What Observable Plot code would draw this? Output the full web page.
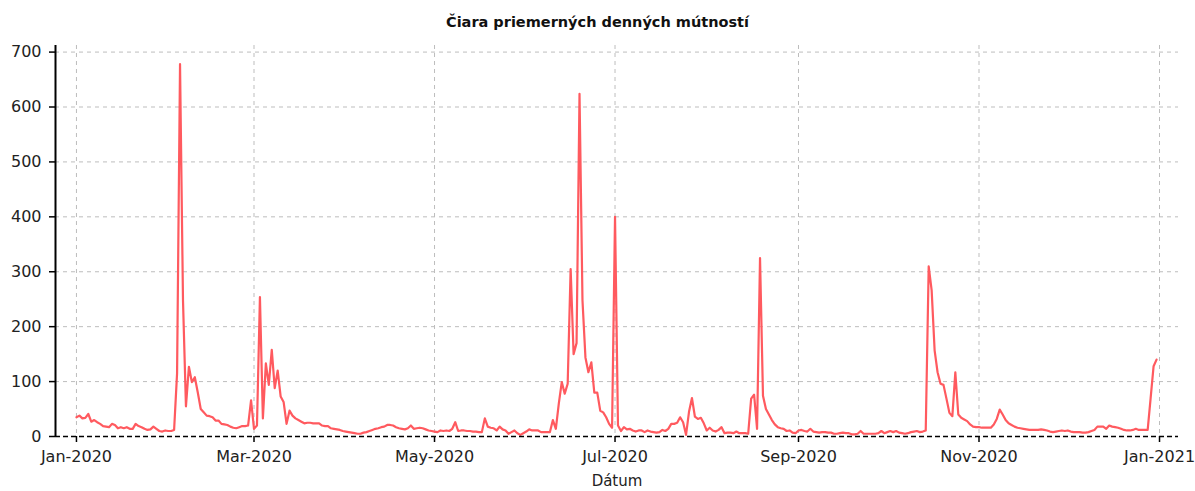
<!DOCTYPE html>
<html>
<head>
<meta charset="utf-8">
<script src="https://cdn.jsdelivr.net/npm/d3@7"></script>
<script src="https://cdn.jsdelivr.net/npm/@observablehq/plot@0.6"></script>
<style>
  html, body { margin: 0; padding: 0; background: #fff; }
  #wrap { width: 1195px; height: 491px; position: relative; font-family: "DejaVu Sans", sans-serif; }
  #title { height: 36px; line-height: 44px; text-align: center; font-weight: bold; font-size: 14.5px; color: #111; }
</style>
</head>
<body>
<div id="wrap">
  <div id="title">Čiara priemerných denných mútností</div>
  <div id="chart"></div>
</div>
<script>
// Daily mean turbidity, 2020 (one value per day, starting at startDate)
const startDate = "2020-01-01";
const jan = [35,38,33,34,41,27,30,26,23,19,18,17,23,21,15,17,15,17,14,14,23,19,17,14,12,13,18,14,10,9,11];
const feb = [10,10,12,115,678,248,55,127,99,108,80,50,44,38,37,35,29,29,23,22,21,18,16,15,17,19,19,20,66];
const mar = [14,20,254,33,133,94,158,88,120,73,63,23,47,38,33,30,27,24,25,25,24,24,24,20,19,19,15,14,13,12,10];
const apr = [9,8,7,6,5,5,7,8,10,12,14,15,17,18,21,21,20,17,15,14,13,15,20,14,15,16,15,13,11,10];
const may = [9,8,11,10,11,10,14,26,10,11,11,10,10,9,9,8,8,33,18,16,15,11,18,13,11,5,8,11,6,3,6];
const jun = [9,13,11,11,11,8,8,8,8,30,14,60,99,78,96,305,150,170,624,248,144,117,135,80,80,47,44,35,23,16];
const jul = [400,20,10,17,13,14,11,9,11,11,8,11,9,8,7,8,12,10,14,23,23,25,35,26,3,45,70,36,32,34,24];
const aug = [11,16,11,9,12,17,6,7,7,6,9,6,6,6,5,69,76,14,325,74,50,40,30,22,17,15,14,10,11,7,6];
const sep = [11,12,10,9,14,9,8,7,8,8,7,7,5,5,6,7,6,6,4,4,5,10,5,5,5,5,5,6,10,6];
const oct = [8,10,8,10,7,6,5,6,8,9,10,8,9,11,310,266,157,117,96,94,69,43,37,117,40,34,31,28,22,18,17];
const nov = [17,16,16,16,16,22,32,49,40,30,24,21,18,16,15,14,13,12,12,12,12,13,12,11,9,8,9,10,11,10];
const dec = [11,9,8,8,8,7,7,8,10,12,18,18,18,14,20,18,17,16,14,12,11,11,12,14,12,12,12,12,70,128,140];

const yTicks = [0,100,200,300,400,500,600,700];
const xTicks = ["2020-01-01","2020-03-01","2020-05-01","2020-07-01","2020-09-01","2020-11-01","2021-01-01"];
const monthNames = ["Jan","Feb","Mar","Apr","May","Jun","Jul","Aug","Sep","Oct","Nov","Dec"];
const xLabel = "Dátum";

const values = [].concat(jan, feb, mar, apr, may, jun, jul, aug, sep, oct, nov, dec);
const t0 = new Date(startDate + "T00:00:00Z");
const data = values.map((v, i) => ({date: new Date(t0.getTime() + i * 864e5), value: v}));
const xTickDates = xTicks.map(s => new Date(s + "T00:00:00Z"));

const xDomain = [new Date(Date.UTC(2019, 11, 24, 22)), new Date(Date.UTC(2021, 0, 7, 10))];
const yDomain = [0, 712];
const fmt = d => monthNames[d.getUTCMonth()] + "-" + d.getUTCFullYear();

const plot = Plot.plot({
  width: 1195,
  height: 455,
  marginLeft: 55,
  marginRight: 17,
  marginTop: 9,
  marginBottom: 55,
  style: {fontFamily: "DejaVu Sans, sans-serif", fontSize: "16px", color: "#222", background: "#fff"},
  x: {type: "utc", domain: xDomain},
  y: {domain: yDomain},
  marks: [
    Plot.gridX(xTickDates, {stroke: "#bdbdbd", strokeOpacity: 1, strokeDasharray: "4,4", strokeWidth: 1}),
    Plot.gridY(yTicks, {stroke: "#bdbdbd", strokeOpacity: 1, strokeDasharray: "4,4", strokeWidth: 1}),
    Plot.axisY(yTicks, {tickSize: 6, tickPadding: 8, stroke: "#000", strokeWidth: 1.5, label: null, fontSize: 16}),
    Plot.axisX(xTickDates, {tickSize: 6, tickPadding: 8, stroke: "#000", strokeWidth: 1.5, tickFormat: fmt, label: null, fontSize: 16}),
    Plot.text([xLabel], {frameAnchor: "bottom", dy: 49, fontSize: 15, fill: "#222"}),
    Plot.ruleX([xDomain[0]], {y1: yDomain[0], y2: yDomain[1], stroke: "#000", strokeWidth: 2}),
    Plot.lineY(data, {x: "date", y: "value", stroke: "#ff5a5f", strokeWidth: 2.2}),
    Plot.ruleY([0], {stroke: "#000", strokeWidth: 1.5, strokeDasharray: "5,3"})
  ]
});
document.getElementById("chart").appendChild(plot);
</script>
</body>
</html>
